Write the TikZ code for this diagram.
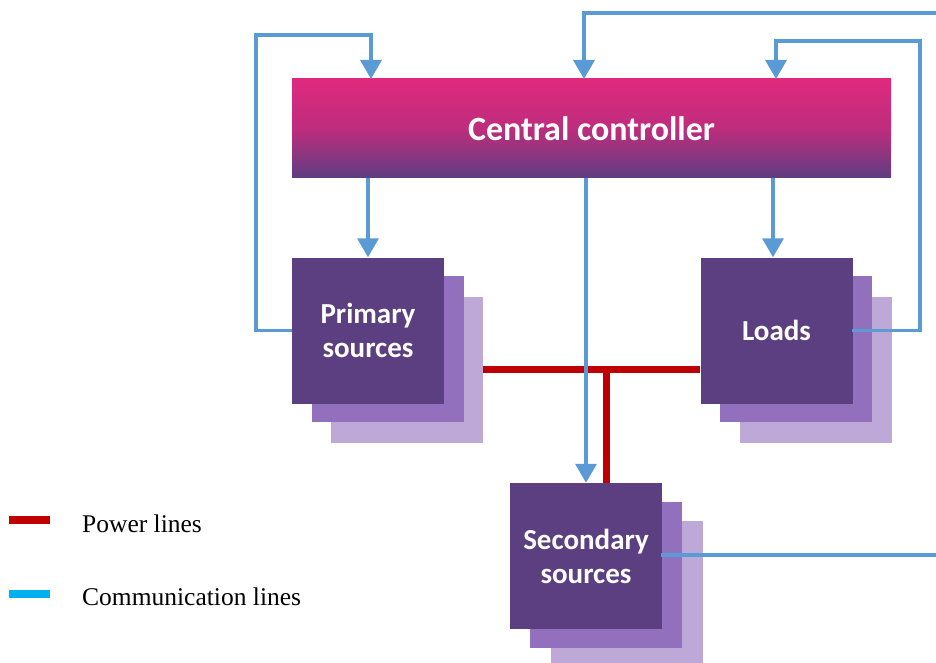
\documentclass[tikz,border=0pt]{standalone}
\usepackage{fontspec}
\setmainfont{Liberation Serif}
\newfontfamily\boxfont{Carlito}
\usetikzlibrary{arrows.meta}
\definecolor{ccTop}{RGB}{223,41,126}
\definecolor{ccMid}{RGB}{190,45,125}
\definecolor{ccBot}{RGB}{94,61,130}
\definecolor{boxA}{RGB}{91,63,128}
\definecolor{boxB}{RGB}{147,112,189}
\definecolor{boxC}{RGB}{189,168,216}
\definecolor{commBlue}{RGB}{91,155,213}
\definecolor{powerRed}{RGB}{192,0,0}
\definecolor{legBlue}{RGB}{0,176,240}
\tikzset{
  unitbox/.style={draw=none, inner sep=0pt, minimum width=152pt, minimum height=146pt},
  frontbox/.style={unitbox, fill=boxA, text=white, font=\boxfont\bfseries\fontsize{29}{34}\selectfont, align=center},
  midbox/.style={unitbox, fill=boxB},
  backbox/.style={unitbox, fill=boxC},
  comm/.style={draw=commBlue, line width=3.5pt},
  commarrow/.style={comm, -{Triangle[width=21pt,length=19pt]}},
  power/.style={draw=powerRed, line width=7pt},
  legtext/.style={anchor=west, font=\fontsize{25.5}{30}\selectfont, inner sep=0pt}
}
\begin{document}
\begin{tikzpicture}[x=1pt,y=-1pt]
\useasboundingbox (0,0) rectangle (936,663);

% central controller
\node[inner sep=0pt, minimum width=599pt, minimum height=99pt,
      top color=ccTop, bottom color=ccBot, middle color=ccMid,
      text=white, font=\boxfont\bfseries\fontsize{34}{40}\selectfont]
  (cc) at (591.5,128.5) {Central controller};

% primary sources stack
\node[backbox] (prim3) at (407,369.5) {};
\node[midbox]  (prim2) at (387.5,349) {};
\node[frontbox] (prim) at (368,330.5) {Primary\\sources};

% loads stack
\node[backbox] (load3) at (815.5,369.5) {};
\node[midbox]  (load2) at (795.5,349) {};
\node[frontbox] (load) at (776.5,330.5) {Loads};

% secondary sources stack
\node[backbox] (sec3) at (626.5,594) {};
\node[midbox]  (sec2) at (605.5,575) {};
\node[frontbox] (sec) at (586,556) {Secondary\\sources};

% power lines
\coordinate (pj) at (606,369.5);
\draw[power] (prim3.east) -- (prim3.east -| load.west);
\draw[power] (pj) -- (pj |- sec.north);

% communication lines
\coordinate (pl1) at (256,35);
\coordinate (pin) at (371,79);
\draw[commarrow] (prim.west) -| (pl1) -| (pin);

\coordinate (tin) at (936,13);
\coordinate (tdown) at (584,79);
\draw[commarrow] (tin) -| (tdown);

\coordinate (ll1) at (920,41);
\coordinate (lin) at (776,79);
\coordinate (lout) at (852,330.5);
\draw[commarrow] (lout) -| (ll1) -| (lin);

\coordinate (pdown) at (368,178);
\draw[commarrow] (pdown) -- (pdown |- prim.north);
\coordinate (ldown) at (773,178);
\draw[commarrow] (ldown) -- (ldown |- load.north);
\draw[commarrow] (cc.south -| sec.north) -- (sec.north);

\coordinate (sout) at (661,555);
\coordinate (sright) at (936,555);
\draw[comm] (sout) -- (sright);

% legend
\coordinate (lr1) at (9,520); \coordinate (lr2) at (50,520);
\draw[draw=powerRed, line width=8pt] (lr1) -- (lr2);
\coordinate (lb1) at (9,594); \coordinate (lb2) at (50,594);
\draw[draw=legBlue, line width=8pt] (lb1) -- (lb2);
\node[legtext] (lp) at (82,524) {Power lines};
\node[legtext] (lc) at (82,597) {Communication lines};
\end{tikzpicture}
\end{document}
